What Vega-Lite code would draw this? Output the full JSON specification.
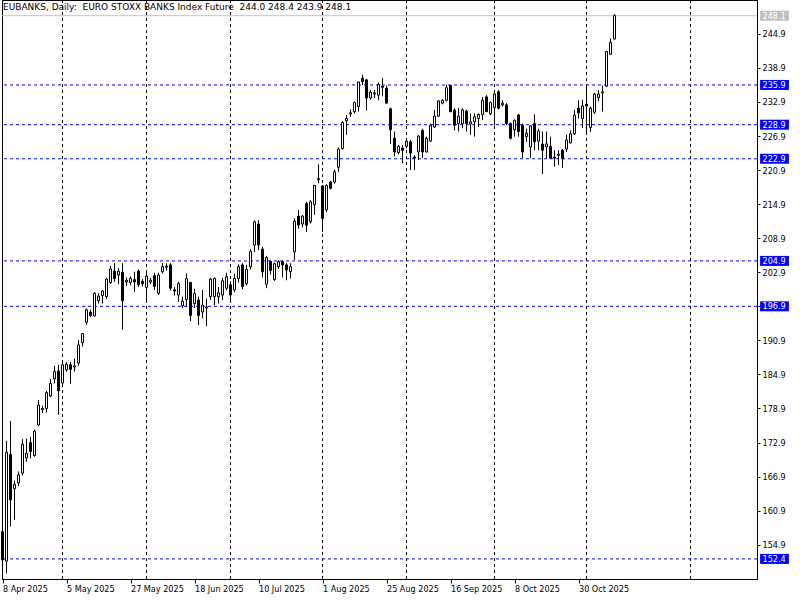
{
 "$schema": "https://vega.github.io/schema/vega-lite/v6.json",
 "width": 755,
 "height": 579,
 "autosize": {"type": "none"},
 "padding": {"left": 2, "top": 0, "right": 43, "bottom": 21},
 "background": "white",
 "config": {
  "view": {"stroke": "black", "strokeWidth": 1},
  "font": "DejaVu Sans Condensed, DejaVu Sans",
  "scale": {"continuousPadding": 0},
  "axis": {"labelFont": "DejaVu Sans Condensed, DejaVu Sans", "labelFontSize": 9, "labelColor": "black", "tickColor": "black", "domainColor": "black", "grid": false, "title": null, "labelOverlap": false, "labelFlush": false, "labelBound": false},
  "axisX": {"orient": "bottom",
            "labelExpr": "['8 Apr 2025','5 May 2025','27 May 2025','18 Jun 2025','10 Jul 2025','1 Aug 2025','25 Aug 2025','16 Sep 2025','8 Oct 2025','30 Oct 2025'][round(datum.value/16)]",
            "labelAlign": "left", "tickSize": 4, "labelPadding": 1, "labelOverlap": false},
  "axisY": {"orient": "right", "format": ".1f", "tickSize": 3, "labelPadding": 2, "labelOverlap": false}
 },
 "title": {"text": "EUBANKS, Daily:\u00a0 EURO STOXX BANKS Index Future\u00a0 244.0 248.4 243.9 248.1", "anchor": "start", "frame": "group", "orient": "top", "offset": -12, "fontSize": 9, "fontWeight": "normal", "font": "DejaVu Sans", "color": "black", "dx": 1},
 "datasets": {
  "bars": [
   {"i":0,"o":157.2,"h":158.0,"l":151.8,"c":152.2},
   {"i":1,"o":152.0,"h":173.2,"l":149.9,"c":171.2},
   {"i":2,"o":170.8,"h":176.7,"l":158.1,"c":162.8},
   {"i":3,"o":164.8,"h":166.2,"l":159.3,"c":165.5},
   {"i":4,"o":165.8,"h":167.8,"l":165.2,"c":167.2},
   {"i":5,"o":167.5,"h":173.5,"l":167.1,"c":172.6},
   {"i":6,"o":170.2,"h":173.6,"l":169.5,"c":171.0},
   {"i":7,"o":172.9,"h":173.9,"l":170.1,"c":171.3},
   {"i":8,"o":170.6,"h":175.2,"l":170.4,"c":174.9},
   {"i":9,"o":176.0,"h":180.4,"l":175.8,"c":179.5},
   {"i":10,"o":178.7,"h":179.4,"l":178.1,"c":178.9},
   {"i":11,"o":178.9,"h":182.0,"l":178.2,"c":181.7},
   {"i":12,"o":181.1,"h":184.1,"l":180.9,"c":183.3},
   {"i":13,"o":184.1,"h":186.4,"l":183.3,"c":185.4},
   {"i":14,"o":185.5,"h":186.6,"l":177.8,"c":182.0},
   {"i":15,"o":183.4,"h":187.2,"l":183.0,"c":186.6},
   {"i":16,"o":185.7,"h":187.1,"l":185.4,"c":186.7},
   {"i":17,"o":186.6,"h":187.1,"l":183.3,"c":185.8},
   {"i":18,"o":186.2,"h":187.7,"l":185.4,"c":186.4},
   {"i":19,"o":186.9,"h":191.0,"l":186.4,"c":190.1},
   {"i":20,"o":190.5,"h":192.2,"l":189.8,"c":192.1},
   {"i":21,"o":194.1,"h":196.5,"l":193.6,"c":196.3},
   {"i":22,"o":195.9,"h":196.3,"l":195.0,"c":195.3},
   {"i":23,"o":195.2,"h":199.4,"l":195.1,"c":199.2},
   {"i":24,"o":197.9,"h":199.2,"l":197.4,"c":198.7},
   {"i":25,"o":198.8,"h":199.8,"l":197.4,"c":199.6},
   {"i":26,"o":198.6,"h":201.9,"l":198.2,"c":201.7},
   {"i":27,"o":201.1,"h":204.0,"l":200.8,"c":203.5},
   {"i":28,"o":203.1,"h":204.5,"l":201.2,"c":201.8},
   {"i":29,"o":202.4,"h":203.6,"l":200.8,"c":203.1},
   {"i":30,"o":202.9,"h":204.5,"l":192.8,"c":197.9},
   {"i":31,"o":201.2,"h":202.0,"l":200.5,"c":201.5},
   {"i":32,"o":201.1,"h":202.2,"l":200.6,"c":201.8},
   {"i":33,"o":201.6,"h":203.0,"l":199.4,"c":201.2},
   {"i":34,"o":203.1,"h":203.4,"l":200.3,"c":200.7},
   {"i":35,"o":201.3,"h":201.7,"l":200.4,"c":200.9},
   {"i":36,"o":200.2,"h":202.8,"l":197.7,"c":202.2},
   {"i":37,"o":201.2,"h":201.9,"l":200.8,"c":201.5},
   {"i":38,"o":202.3,"h":202.8,"l":199.8,"c":200.4},
   {"i":39,"o":199.2,"h":202.8,"l":198.9,"c":202.4},
   {"i":40,"o":203.0,"h":204.5,"l":202.7,"c":203.9},
   {"i":41,"o":203.8,"h":204.5,"l":203.2,"c":204.0},
   {"i":42,"o":204.2,"h":204.5,"l":199.7,"c":200.1},
   {"i":43,"o":199.8,"h":200.3,"l":198.8,"c":199.6},
   {"i":44,"o":198.9,"h":201.2,"l":197.7,"c":200.9},
   {"i":45,"o":197.0,"h":198.6,"l":196.6,"c":197.8},
   {"i":46,"o":198.1,"h":202.7,"l":196.8,"c":201.8},
   {"i":47,"o":201.1,"h":201.2,"l":194.3,"c":195.3},
   {"i":48,"o":197.4,"h":200.0,"l":196.6,"c":199.2},
   {"i":49,"o":198.0,"h":198.6,"l":193.6,"c":195.3},
   {"i":50,"o":195.9,"h":199.8,"l":194.8,"c":197.1},
   {"i":51,"o":196.6,"h":198.2,"l":193.4,"c":196.8},
   {"i":52,"o":198.6,"h":201.9,"l":198.0,"c":201.7},
   {"i":53,"o":198.6,"h":202.0,"l":197.1,"c":201.8},
   {"i":54,"o":198.6,"h":200.3,"l":197.4,"c":199.3},
   {"i":55,"o":198.9,"h":201.9,"l":198.0,"c":201.4},
   {"i":56,"o":200.1,"h":202.8,"l":199.7,"c":202.1},
   {"i":57,"o":200.7,"h":201.3,"l":197.7,"c":198.9},
   {"i":58,"o":199.8,"h":202.6,"l":199.4,"c":201.8},
   {"i":59,"o":201.8,"h":204.3,"l":201.1,"c":203.9},
   {"i":60,"o":204.2,"h":204.5,"l":199.9,"c":200.4},
   {"i":61,"o":200.9,"h":204.2,"l":200.6,"c":203.4},
   {"i":62,"o":203.9,"h":207.0,"l":203.4,"c":206.6},
   {"i":63,"o":207.7,"h":212.0,"l":206.5,"c":211.8},
   {"i":64,"o":211.4,"h":212.1,"l":206.8,"c":207.7},
   {"i":65,"o":207.0,"h":207.4,"l":202.0,"c":203.0},
   {"i":66,"o":200.8,"h":205.8,"l":200.1,"c":205.5},
   {"i":67,"o":204.8,"h":205.0,"l":202.5,"c":203.2},
   {"i":68,"o":201.6,"h":204.6,"l":201.4,"c":204.4},
   {"i":69,"o":203.9,"h":205.0,"l":203.5,"c":204.8},
   {"i":70,"o":204.8,"h":205.0,"l":202.0,"c":204.2},
   {"i":71,"o":204.2,"h":204.5,"l":201.5,"c":203.3},
   {"i":72,"o":203.0,"h":204.5,"l":201.8,"c":203.9},
   {"i":73,"o":206.5,"h":212.4,"l":205.1,"c":211.9},
   {"i":74,"o":212.8,"h":213.9,"l":210.6,"c":211.2},
   {"i":75,"o":211.4,"h":213.0,"l":210.8,"c":212.8},
   {"i":76,"o":215.0,"h":215.3,"l":210.0,"c":211.2},
   {"i":77,"o":211.8,"h":215.6,"l":211.5,"c":215.3},
   {"i":78,"o":214.8,"h":218.3,"l":213.0,"c":218.2},
   {"i":79,"o":219.2,"h":221.9,"l":218.6,"c":219.4},
   {"i":80,"o":218.1,"h":218.3,"l":210.0,"c":212.4},
   {"i":81,"o":213.9,"h":218.4,"l":213.5,"c":218.2},
   {"i":82,"o":218.8,"h":219.0,"l":217.5,"c":217.7},
   {"i":83,"o":218.8,"h":221.0,"l":218.5,"c":220.6},
   {"i":84,"o":221.4,"h":224.9,"l":220.6,"c":224.6},
   {"i":85,"o":224.7,"h":229.5,"l":224.5,"c":229.3},
   {"i":86,"o":229.6,"h":230.6,"l":227.1,"c":230.0},
   {"i":87,"o":230.8,"h":231.6,"l":230.3,"c":231.0},
   {"i":88,"o":231.2,"h":233.0,"l":230.9,"c":232.8},
   {"i":89,"o":232.1,"h":236.5,"l":231.2,"c":236.4},
   {"i":90,"o":237.1,"h":237.7,"l":235.9,"c":236.5},
   {"i":91,"o":236.8,"h":236.9,"l":231.4,"c":233.6},
   {"i":92,"o":233.6,"h":235.0,"l":233.3,"c":234.6},
   {"i":93,"o":234.3,"h":235.0,"l":233.6,"c":234.5},
   {"i":94,"o":234.1,"h":236.3,"l":233.2,"c":236.0},
   {"i":95,"o":235.7,"h":237.1,"l":233.9,"c":235.5},
   {"i":96,"o":235.3,"h":235.8,"l":232.7,"c":232.7},
   {"i":97,"o":231.7,"h":231.9,"l":225.5,"c":228.0},
   {"i":98,"o":226.5,"h":227.7,"l":223.3,"c":224.1},
   {"i":99,"o":224.0,"h":225.3,"l":223.7,"c":225.1},
   {"i":100,"o":224.8,"h":225.3,"l":222.1,"c":224.4},
   {"i":101,"o":225.1,"h":226.2,"l":224.7,"c":226.0},
   {"i":102,"o":225.9,"h":226.2,"l":220.9,"c":223.9},
   {"i":103,"o":223.2,"h":223.5,"l":220.9,"c":223.0},
   {"i":104,"o":224.1,"h":227.1,"l":222.7,"c":226.9},
   {"i":105,"o":227.9,"h":228.2,"l":223.0,"c":224.1},
   {"i":106,"o":224.1,"h":226.8,"l":224.0,"c":226.5},
   {"i":107,"o":226.0,"h":229.1,"l":225.9,"c":228.8},
   {"i":108,"o":228.5,"h":231.5,"l":228.3,"c":230.4},
   {"i":109,"o":230.4,"h":233.2,"l":230.3,"c":233.1},
   {"i":110,"o":232.7,"h":233.4,"l":232.5,"c":233.2},
   {"i":111,"o":233.2,"h":235.9,"l":233.0,"c":235.4},
   {"i":112,"o":235.8,"h":235.9,"l":231.1,"c":231.2},
   {"i":113,"o":231.5,"h":231.8,"l":227.9,"c":228.8},
   {"i":114,"o":229.1,"h":231.8,"l":227.7,"c":230.4},
   {"i":115,"o":229.1,"h":231.8,"l":228.3,"c":231.5},
   {"i":116,"o":231.3,"h":231.5,"l":227.7,"c":229.1},
   {"i":117,"o":229.0,"h":230.9,"l":227.1,"c":229.4},
   {"i":118,"o":229.4,"h":230.9,"l":226.8,"c":230.3},
   {"i":119,"o":230.0,"h":230.9,"l":228.5,"c":230.7},
   {"i":120,"o":230.7,"h":233.8,"l":229.7,"c":233.2},
   {"i":121,"o":233.8,"h":234.1,"l":231.2,"c":231.2},
   {"i":122,"o":230.8,"h":233.0,"l":230.6,"c":232.8},
   {"i":123,"o":231.9,"h":234.7,"l":228.8,"c":234.3},
   {"i":124,"o":234.7,"h":235.0,"l":231.6,"c":231.8},
   {"i":125,"o":232.4,"h":233.2,"l":232.1,"c":232.7},
   {"i":126,"o":232.4,"h":232.7,"l":228.8,"c":229.1},
   {"i":127,"o":229.1,"h":229.3,"l":226.3,"c":226.5},
   {"i":128,"o":228.0,"h":229.8,"l":226.8,"c":229.7},
   {"i":129,"o":230.6,"h":230.8,"l":226.8,"c":227.7},
   {"i":130,"o":228.8,"h":229.1,"l":223.0,"c":224.1},
   {"i":131,"o":226.8,"h":228.2,"l":225.9,"c":227.4},
   {"i":132,"o":225.0,"h":228.8,"l":223.0,"c":228.7},
   {"i":133,"o":229.1,"h":230.7,"l":224.4,"c":225.9},
   {"i":134,"o":226.0,"h":228.2,"l":224.4,"c":227.8},
   {"i":135,"o":225.5,"h":227.7,"l":220.2,"c":224.4},
   {"i":136,"o":225.0,"h":227.7,"l":223.0,"c":225.5},
   {"i":137,"o":225.1,"h":226.8,"l":222.9,"c":223.0},
   {"i":138,"o":223.2,"h":224.4,"l":221.5,"c":223.0},
   {"i":139,"o":223.5,"h":224.4,"l":221.8,"c":223.7},
   {"i":140,"o":224.4,"h":224.6,"l":221.3,"c":222.9},
   {"i":141,"o":224.6,"h":227.1,"l":224.1,"c":226.2},
   {"i":142,"o":225.7,"h":227.9,"l":225.6,"c":227.3},
   {"i":143,"o":227.3,"h":231.5,"l":227.1,"c":230.6},
   {"i":144,"o":231.8,"h":233.2,"l":230.0,"c":231.0},
   {"i":145,"o":230.0,"h":233.3,"l":228.3,"c":232.2},
   {"i":146,"o":232.5,"h":235.7,"l":227.5,"c":232.2},
   {"i":147,"o":228.4,"h":232.1,"l":227.6,"c":231.8},
   {"i":148,"o":231.1,"h":234.5,"l":230.8,"c":234.3},
   {"i":149,"o":233.7,"h":235.0,"l":233.0,"c":234.3},
   {"i":150,"o":234.5,"h":235.8,"l":231.2,"c":234.7},
   {"i":151,"o":235.7,"h":241.9,"l":235.5,"c":241.8},
   {"i":152,"o":241.3,"h":244.1,"l":241.2,"c":243.4},
   {"i":153,"o":244.0,"h":248.4,"l":243.9,"c":248.1}
  ],
  "months": [{"i":15},{"i":36},{"i":57},{"i":80},{"i":101},{"i":123},{"i":146},{"i":172}],
  "levels": [{"v":235.9},{"v":228.9},{"v":222.9},{"v":204.9},{"v":196.9},{"v":152.4}],
  "last": [{"v":248.1}]
 },
 "layer": [
  {
   "data": {"name": "months"},
   "mark": {"type": "rule", "color": "black", "strokeDash": [3, 3], "strokeWidth": 1},
   "encoding": {
    "x": {"field": "i", "type": "quantitative", "title": null, "scale": {"domain": [-0.125, 188.625], "nice": false, "zero": false, "padding": 0}, "axis": {"values": [0, 16, 32, 48, 64, 80, 96, 112, 128, 144]}}
   }
  },
  {
   "data": {"name": "levels"},
   "mark": {"type": "rule", "color": "#0000ff", "strokeDash": [3, 3], "strokeWidth": 1},
   "encoding": {
    "y": {"field": "v", "type": "quantitative", "title": null, "scale": {"domain": [148.86, 250.87], "nice": false, "zero": false, "padding": 0}, "axis": {"values": [154.9, 160.9, 166.9, 172.9, 178.9, 184.9, 190.9, 196.9, 202.9, 208.9, 214.9, 220.9, 226.9, 232.9, 238.9, 244.9]}}
   }
  },
  {
   "data": {"name": "last"},
   "mark": {"type": "rule", "color": "#c0c0c0", "strokeWidth": 1},
   "encoding": {
    "y": {"field": "v", "type": "quantitative", "title": null, "scale": {"domain": [148.86, 250.87], "nice": false, "zero": false, "padding": 0}, "axis": {"values": [154.9, 160.9, 166.9, 172.9, 178.9, 184.9, 190.9, 196.9, 202.9, 208.9, 214.9, 220.9, 226.9, 232.9, 238.9, 244.9]}}
   }
  },
  {
   "data": {"name": "bars"},
   "mark": {"type": "rule", "color": "black", "strokeWidth": 1},
   "encoding": {
    "x": {"field": "i", "type": "quantitative", "title": null, "scale": {"domain": [-0.125, 188.625], "nice": false, "zero": false, "padding": 0}, "axis": {"values": [0, 16, 32, 48, 64, 80, 96, 112, 128, 144]}},
    "y": {"field": "l", "type": "quantitative", "title": null, "scale": {"domain": [148.86, 250.87], "nice": false, "zero": false, "padding": 0}, "axis": {"values": [154.9, 160.9, 166.9, 172.9, 178.9, 184.9, 190.9, 196.9, 202.9, 208.9, 214.9, 220.9, 226.9, 232.9, 238.9, 244.9]}},
    "y2": {"field": "h"}
   }
  },
  {
   "data": {"name": "bars"},
   "mark": {"type": "bar", "orient": "vertical", "size": 2, "stroke": "black", "strokeWidth": 1},
   "encoding": {
    "x": {"field": "i", "type": "quantitative", "title": null, "scale": {"domain": [-0.125, 188.625], "nice": false, "zero": false, "padding": 0}, "axis": {"values": [0, 16, 32, 48, 64, 80, 96, 112, 128, 144]}},
    "y": {"field": "o", "type": "quantitative", "title": null, "scale": {"domain": [148.86, 250.87], "nice": false, "zero": false, "padding": 0}, "axis": {"values": [154.9, 160.9, 166.9, 172.9, 178.9, 184.9, 190.9, 196.9, 202.9, 208.9, 214.9, 220.9, 226.9, 232.9, 238.9, 244.9]}},
    "y2": {"field": "c"},
    "fill": {"condition": {"test": "datum.o > datum.c", "value": "black"}, "value": "white"}
   }
  },
  {
   "data": {"name": "levels"},
   "mark": {"type": "bar", "orient": "horizontal", "size": 10, "color": "#0000ff"},
   "encoding": {
    "x": {"datum": 189.4, "type": "quantitative", "title": null, "scale": {"domain": [-0.125, 188.625], "nice": false, "zero": false, "padding": 0}, "axis": {"values": [0, 16, 32, 48, 64, 80, 96, 112, 128, 144]}},
    "x2": {"datum": 196.6},
    "y": {"field": "v", "type": "quantitative", "title": null, "scale": {"domain": [148.86, 250.87], "nice": false, "zero": false, "padding": 0}, "axis": {"values": [154.9, 160.9, 166.9, 172.9, 178.9, 184.9, 190.9, 196.9, 202.9, 208.9, 214.9, 220.9, 226.9, 232.9, 238.9, 244.9]}}
   }
  },
  {
   "data": {"name": "last"},
   "mark": {"type": "bar", "orient": "horizontal", "size": 10, "color": "#c0c0c0"},
   "encoding": {
    "x": {"datum": 189.4, "type": "quantitative", "title": null, "scale": {"domain": [-0.125, 188.625], "nice": false, "zero": false, "padding": 0}, "axis": {"values": [0, 16, 32, 48, 64, 80, 96, 112, 128, 144]}},
    "x2": {"datum": 196.6},
    "y": {"field": "v", "type": "quantitative", "title": null, "scale": {"domain": [148.86, 250.87], "nice": false, "zero": false, "padding": 0}, "axis": {"values": [154.9, 160.9, 166.9, 172.9, 178.9, 184.9, 190.9, 196.9, 202.9, 208.9, 214.9, 220.9, 226.9, 232.9, 238.9, 244.9]}}
   }
  },
  {
   "data": {"name": "levels"},
   "mark": {"type": "text", "align": "left", "baseline": "middle", "color": "white", "fontSize": 9, "font": "DejaVu Sans Condensed, DejaVu Sans"},
   "encoding": {
    "x": {"datum": 190.0, "type": "quantitative", "title": null, "scale": {"domain": [-0.125, 188.625], "nice": false, "zero": false, "padding": 0}, "axis": {"values": [0, 16, 32, 48, 64, 80, 96, 112, 128, 144]}},
    "y": {"field": "v", "type": "quantitative", "title": null, "scale": {"domain": [148.86, 250.87], "nice": false, "zero": false, "padding": 0}, "axis": {"values": [154.9, 160.9, 166.9, 172.9, 178.9, 184.9, 190.9, 196.9, 202.9, 208.9, 214.9, 220.9, 226.9, 232.9, 238.9, 244.9]}},
    "text": {"field": "v", "type": "quantitative", "format": ".1f"}
   }
  },
  {
   "data": {"name": "last"},
   "mark": {"type": "text", "align": "left", "baseline": "middle", "color": "white", "fontSize": 9, "font": "DejaVu Sans Condensed, DejaVu Sans"},
   "encoding": {
    "x": {"datum": 190.0, "type": "quantitative", "title": null, "scale": {"domain": [-0.125, 188.625], "nice": false, "zero": false, "padding": 0}, "axis": {"values": [0, 16, 32, 48, 64, 80, 96, 112, 128, 144]}},
    "y": {"field": "v", "type": "quantitative", "title": null, "scale": {"domain": [148.86, 250.87], "nice": false, "zero": false, "padding": 0}, "axis": {"values": [154.9, 160.9, 166.9, 172.9, 178.9, 184.9, 190.9, 196.9, 202.9, 208.9, 214.9, 220.9, 226.9, 232.9, 238.9, 244.9]}},
    "text": {"field": "v", "type": "quantitative", "format": ".1f"}
   }
  }
 ]
}
